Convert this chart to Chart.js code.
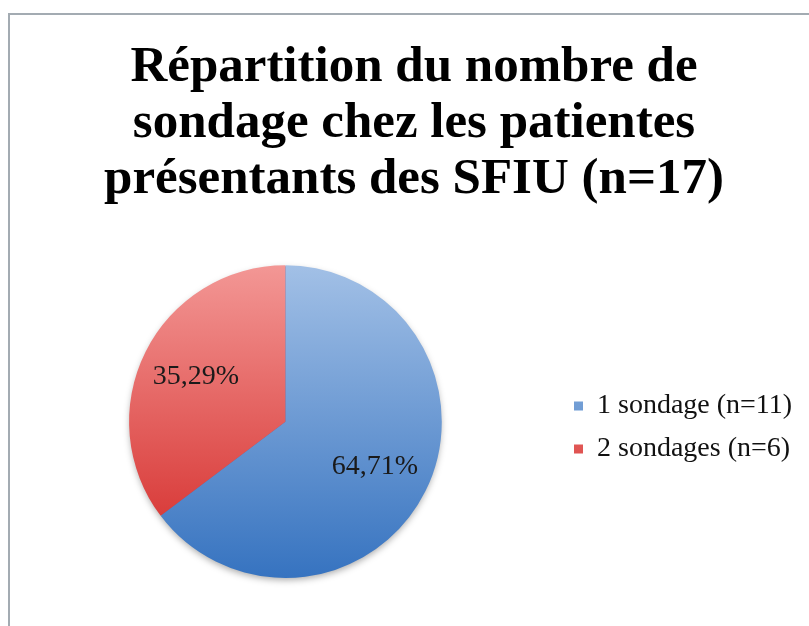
<!DOCTYPE html>
<html>
<head>
<meta charset="utf-8">
<script src="https://cdn.jsdelivr.net/npm/chart.js@4"></script>
<style>
  html, body { margin: 0; padding: 0; background: #fff; }
  #wrap { width: 809px; height: 626px; }
</style>
</head>
<body>
<div id="wrap"><canvas id="pieChart" width="809" height="626"></canvas></div>
<script>
"use strict";
const titleLines = ['Répartition du nombre de', 'sondage chez les patientes', 'présentants des SFIU (n=17)'];
const categories = ['1 sondage (n=11)', '2 sondages (n=6)'];
const counts = [11, 6];
const percentLabels = ['64,71%', '35,29%'];

const gradientStops = [
    ['#a2c0e6', '#3673c0'],
    ['#f39795', '#d32725']
];

function sliceFill(context) {
    const area = context.chart.chartArea;
    const stops = gradientStops[context.dataIndex];
    if (!area) return stops[1];
    const g = context.chart.ctx.createLinearGradient(0, area.top, 0, area.bottom);
    g.addColorStop(0, stops[0]);
    g.addColorStop(1, stops[1]);
    return g;
}

// grey frame round the chart (left and top edges visible)
const framePlugin = {
    id: 'frame',
    beforeDraw(chart) {
        const ctx = chart.ctx;
        ctx.save();
        ctx.strokeStyle = '#a3abb2';
        ctx.lineWidth = 2;
        ctx.strokeRect(9, 14, 900, 700);
        ctx.restore();
    }
};

// put the legend beside the pie, a little below its middle, and nudge the title
const placeBlocks = {
    id: 'placeBlocks',
    afterLayout(chart) {
        const lg = chart.legend;
        const pad = lg.options.labels.padding;
        const w = lg.right - lg.left;
        lg.left = 559;
        lg.right = lg.left + w;
        lg.top = 377;
        lg.bottom = lg.top + pad + 2 * (lg.options.labels.font.size + pad);
        const tb = chart.titleBlock;
        tb.left += 7;
        tb.right += 7;
    }
};

// soft shadow under the pie
const shadowPlugin = {
    id: 'pieShadow',
    beforeDatasetsDraw(chart) {
        const arc = chart.getDatasetMeta(0).data[0];
        if (!arc) return;
        const ctx = chart.ctx;
        ctx.save();
        ctx.shadowColor = 'rgba(0,0,0,0.35)';
        ctx.shadowBlur = 7;
        ctx.shadowOffsetY = 3;
        ctx.fillStyle = '#3a76c0';
        ctx.beginPath();
        ctx.arc(arc.x, arc.y, arc.outerRadius - 1, 0, Math.PI * 2);
        ctx.fill();
        ctx.restore();
    }
};

// percentage labels inside the slices
const sliceLabels = {
    id: 'sliceLabels',
    afterDatasetsDraw(chart) {
        const ctx = chart.ctx;
        ctx.save();
        ctx.font = '28px "Liberation Serif"';
        ctx.fillStyle = '#1a1a1a';
        ctx.textAlign = 'center';
        ctx.textBaseline = 'middle';
        chart.getDatasetMeta(0).data.forEach((arc, i) => {
            const p = arc.getProps(['x', 'y', 'startAngle', 'endAngle', 'outerRadius'], true);
            const mid = (p.startAngle + p.endAngle) / 2;
            const r = p.outerRadius * 0.64;
            ctx.fillText(percentLabels[i], p.x + Math.cos(mid) * r, p.y + Math.sin(mid) * r);
        });
        ctx.restore();
    }
};

new Chart(document.getElementById('pieChart'), {
    type: 'pie',
    data: {
        labels: categories,
        datasets: [{
            data: counts,
            backgroundColor: sliceFill,
            borderWidth: 0
        }]
    },
    options: {
        responsive: false,
        animation: false,
        layout: { padding: { left: 8, right: 3, top: 0, bottom: 48 } },
        plugins: {
            title: {
                display: true,
                text: titleLines,
                color: '#000',
                font: { family: '"Liberation Serif"', size: 51, weight: 'bold', lineHeight: 1.1 },
                padding: { top: 40, bottom: 57 }
            },
            legend: {
                position: 'right',
                labels: {
                    boxWidth: 9,
                    boxHeight: 9,
                    padding: 15,
                    color: '#111',
                    font: { family: '"Liberation Serif"', size: 28 }
                }
            },
            tooltip: { enabled: false }
        }
    },
    plugins: [framePlugin, placeBlocks, shadowPlugin, sliceLabels]
});
</script>
</body>
</html>
